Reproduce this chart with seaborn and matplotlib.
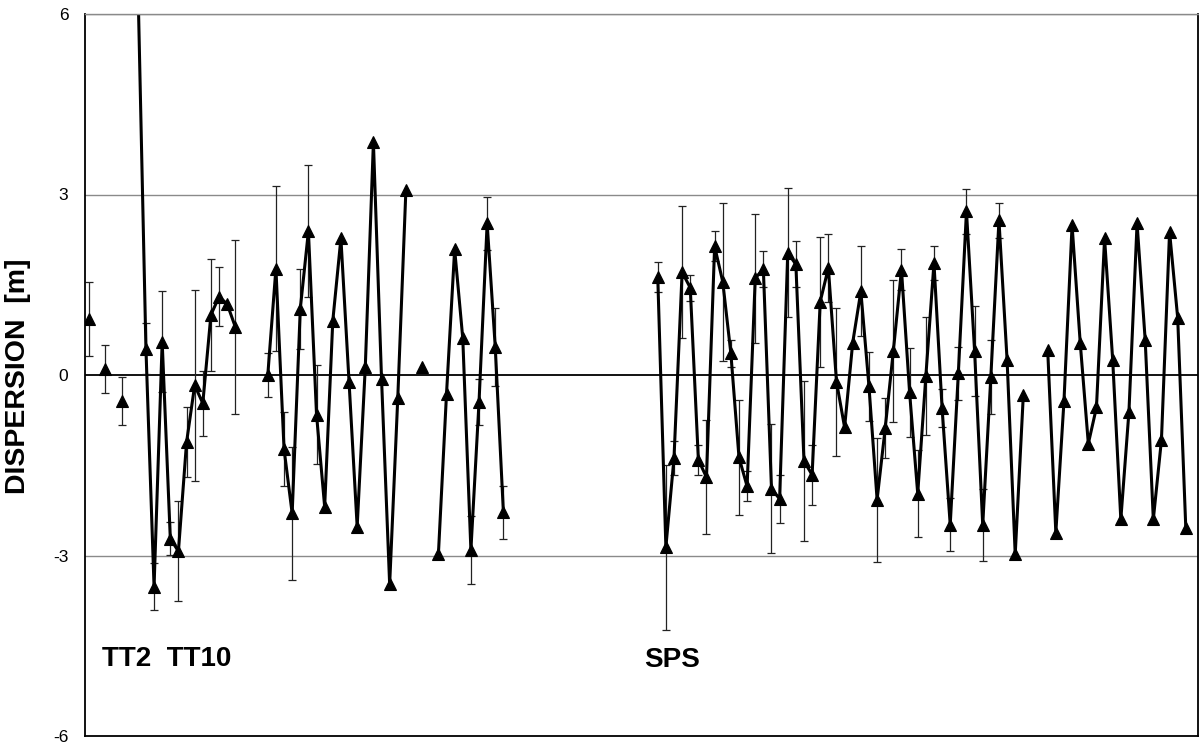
import numpy as np
import pandas as pd
import seaborn as sns
import matplotlib.pyplot as plt

# measured dispersion per monitor position (index along the lines)
tt2_pos = [0, 2, 4]
tt2_val = [0.93, 0.10, -0.43]
tt2_err = [0.62, 0.40, 0.40]

tt10_pos = list(range(6, 19))
tt10_val = [6.6, 0.44, -3.52, 0.55, -2.72, -2.93, -1.12, -0.17, -0.47, 1.00, 1.30, 1.18, 0.80]
tt10_err = [np.nan, 0.43, 0.39, 0.84, 0.27, 0.83, 0.58, 1.59, 0.54, 0.93, 0.49, np.nan, 1.45]

tt40_pos = list(range(22, 40))
tt40_val = [0.00, 1.77, -1.23, -2.30, 1.10, 2.39, -0.66, -2.19, 0.90, 2.27, -0.11, -2.52,
            0.13, 3.87, -0.06, -3.48, -0.38, 3.08]
tt40_err = [0.36, 1.37, 0.62, 1.10, 0.67, 1.10, 0.82] + [np.nan] * 11

single_pos = [41]
single_val = [0.14]

tt60_pos = list(range(43, 52))
tt60_val = [-2.98, -0.31, 2.09, 0.61, -2.91, -0.45, 2.52, 0.46, -2.28]
tt60_err = [np.nan, np.nan, np.nan, np.nan, 0.56, 0.38, 0.44, 0.65, 0.44]

sps_pos = list(range(70, 116))
sps_val = [1.63, -2.86, -1.38, 1.71, 1.45, -1.41, -1.70, 2.14, 1.55, 0.36,
           -1.37, -1.85, 1.61, 1.76, -1.89, -2.06, 2.03, 1.84, -1.43, -1.66,
           1.22, 1.78, -0.11, -0.87, 0.54, 1.39, -0.19, -2.07, -0.88, 0.40,
           1.75, -0.29, -1.97, -0.02, 1.86, -0.55, -2.49, 0.03, 2.72, 0.40,
           -2.49, -0.03, 2.57, 0.25, -2.98, -0.33]
sps_err = [0.25, 1.37, 0.29, 1.10, 0.22, 0.25, 0.95, 0.25, 1.31, 0.23,
           0.96, 0.25, 1.07, 0.30, 1.07, 0.40, 1.07, 0.38, 1.33, 0.50,
           1.08, 0.57, 1.23, np.nan, np.nan, 0.75, 0.58, 1.03, 0.50, 1.18,
           0.34, 0.74, 0.73, 0.98, 0.28, 0.31, 0.44, 0.44, 0.37, 0.75,
           0.60, 0.61, 0.29, np.nan, np.nan, np.nan]

sps2_pos = list(range(118, 136))
sps2_val = [0.41, -2.62, -0.44, 2.49, 0.54, -1.14, -0.54, 2.27, 0.25, -2.40,
            -0.61, 2.52, 0.58, -2.40, -1.08, 2.38, 0.95, -2.55]

yticks = [-6, -3, 0, 3, 6]

# build one long table, each connected piece gets its own unit id
pieces = [
    (tt2_pos[0:1], tt2_val[0:1], tt2_err[0:1]),
    (tt2_pos[1:2], tt2_val[1:2], tt2_err[1:2]),
    (tt2_pos[2:3], tt2_val[2:3], tt2_err[2:3]),
    (tt10_pos, tt10_val, tt10_err),
    (tt40_pos, tt40_val, tt40_err),
    (single_pos, single_val, [np.nan]),
    (tt60_pos, tt60_val, tt60_err),
    (sps_pos, sps_val, sps_err),
    (sps2_pos, sps2_val, [np.nan] * len(sps2_val)),
]
frames = []
for k, (p, v, e) in enumerate(pieces):
    frames.append(pd.DataFrame({'pos': p, 'disp': v, 'err': e, 'seg': k}))
df = pd.concat(frames, ignore_index=True)

sns.set_style('white')
plt.rcParams['font.family'] = ['Liberation Sans', 'DejaVu Sans']
plt.rcParams['axes.unicode_minus'] = False
plt.rcParams['text.color'] = 'black'

fig = plt.figure(figsize=(11.99, 7.51), dpi=100)
ax = fig.add_axes([85 / 1199, 15 / 751, 1113 / 1199, 722 / 751])

for g in [-3, 3, 6]:
    ax.axhline(g, color='#8a8a8a', lw=1.0, zorder=0)
ax.axhline(0, color='black', lw=1.3, zorder=0.5)

eb = df.dropna(subset=['err'])
ax.errorbar(eb['pos'], eb['disp'], yerr=eb['err'], fmt='none', ecolor='#222222',
            elinewidth=0.9, capsize=3, capthick=0.9, zorder=1)

sns.lineplot(data=df, x='pos', y='disp', units='seg', estimator=None, sort=False,
             color='black', lw=2.2, marker='^', markersize=8,
             markeredgecolor='black', markeredgewidth=0.8, ax=ax, zorder=2)

ax.set_xlim(-0.5, 136.5)
ax.set_ylim(-6, 6)
ax.set_yticks(yticks)
ax.set_yticklabels([str(t) for t in yticks])
ax.set_xticks([])
ax.tick_params(axis='y', direction='inout', length=8, width=1, pad=8,
               labelsize=12.5, colors='black')
ax.set_xlabel('')
ax.set_ylabel('')

for side in ['left', 'right', 'bottom']:
    ax.spines[side].set_color('black')
    ax.spines[side].set_linewidth(1.3)
ax.spines['top'].set_color('#8a8a8a')
ax.spines['top'].set_linewidth(1.0)

ax.text(1.65, -4.84, 'TT2  TT10', fontsize=20, fontweight='bold', va='baseline',
        color='black')
ax.text(68.3, -4.85, 'SPS', fontsize=20, fontweight='bold', va='baseline',
        color='black')
fig.text(18 / 1199, 1 - 376 / 751, 'DISPERSION  [m]', rotation=90, fontsize=20.5,
         fontweight='bold', ha='center', va='center', color='black')

fig.savefig('out.png', dpi=100)
